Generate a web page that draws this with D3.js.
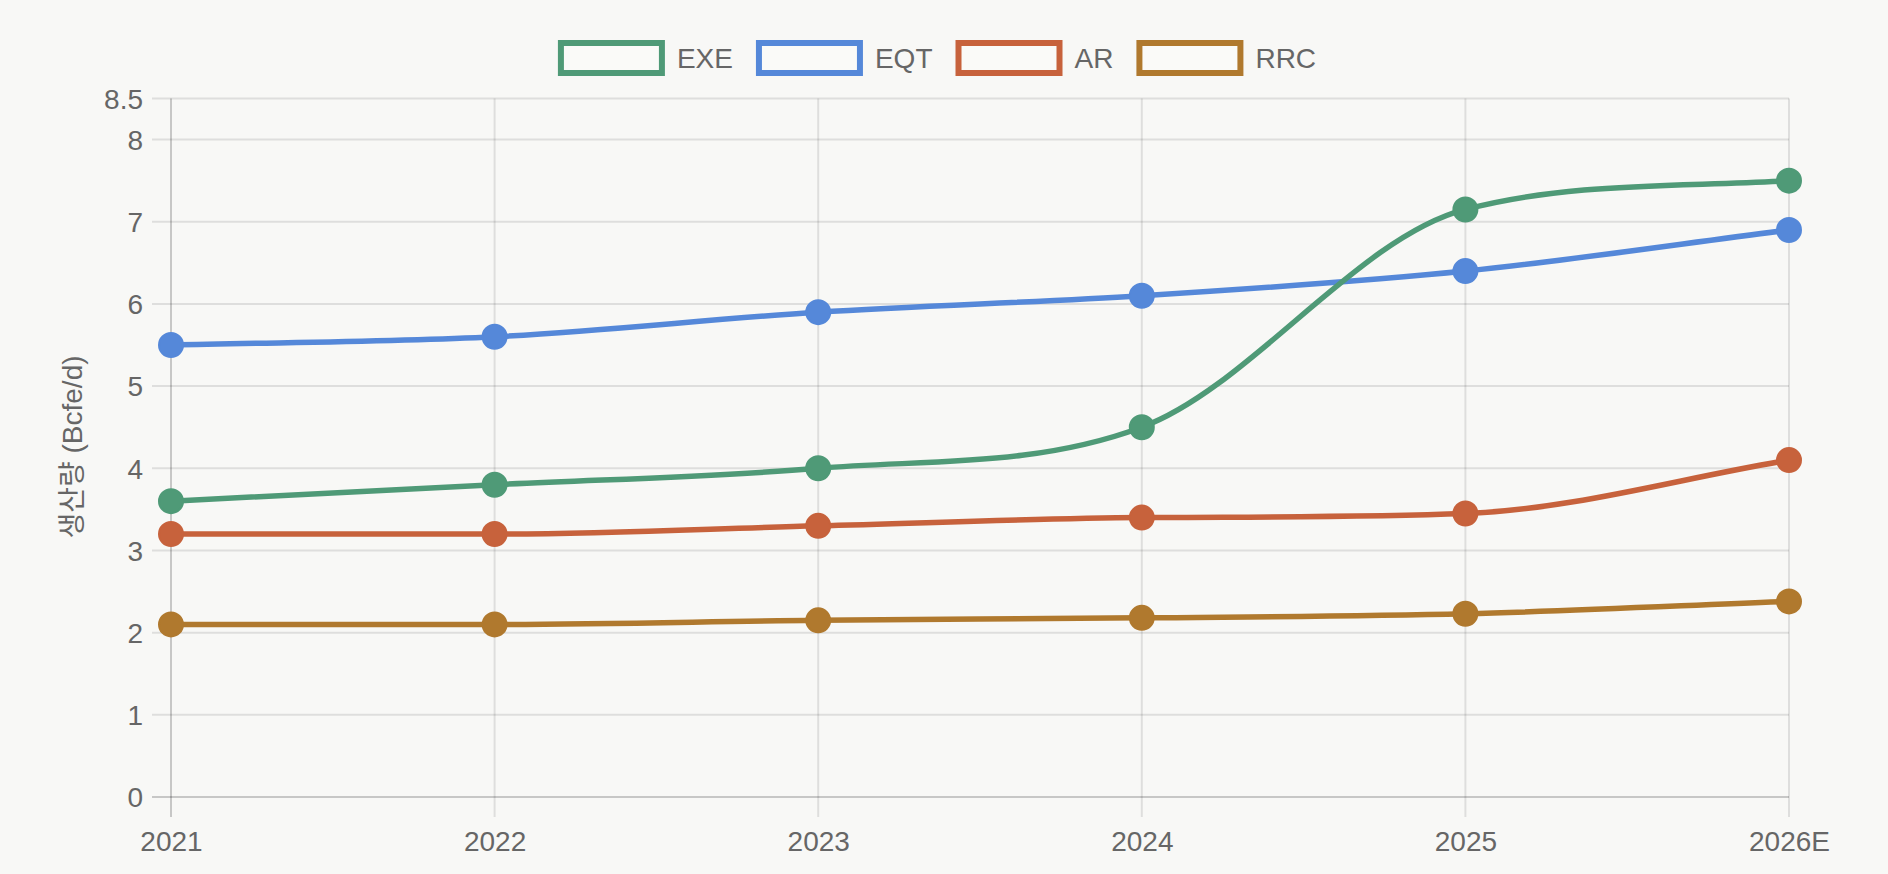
<!DOCTYPE html>
<html>
<head>
<meta charset="utf-8">
<script src="https://cdn.jsdelivr.net/npm/d3@7"></script>
<style>
  html, body { margin: 0; padding: 0; background: #f8f8f6; }
  svg { display: block; }
  text { font-family: "Liberation Sans", Arial, "Noto Sans CJK KR", sans-serif; fill: #666; }
</style>
</head>
<body>
<svg id="chart" width="1888" height="874"></svg>
<script>
const categories = ["2021", "2022", "2023", "2024", "2025", "2026E"];
const seriesNames = ["EXE", "EQT", "AR", "RRC"];
const seriesColors = ["#4f9a77", "#5588d9", "#c7623c", "#b0792e"];
const exeValues = [3.6, 3.8, 4.0, 4.5, 7.15, 7.5];
const eqtValues = [5.5, 5.6, 5.9, 6.1, 6.4, 6.9];
const arValues  = [3.2, 3.2, 3.3, 3.4, 3.45, 4.1];
const rrcValues = [2.1, 2.1, 2.15, 2.18, 2.23, 2.38];
const yTicks = [0, 1, 2, 3, 4, 5, 6, 7, 8, 8.5];
const yMax = 8.5;
const yTitle = "생산량 (Bcfe/d)";

(function () {
const seriesValues = [exeValues, eqtValues, arValues, rrcValues];
const series = seriesNames.map((n, i) => ({ name: n, color: seriesColors[i], values: seriesValues[i] }));

const svg = d3.select("#chart");
const pL = 171, pR = 1789, pT = 98.5, pB = 797;

const x = d3.scalePoint().domain(categories).range([pL, pR]).padding(0);
const y = d3.scaleLinear().domain([0, yMax]).range([pB, pT]);

const gridColor = "rgba(0,0,0,0.1)";

// horizontal grid
svg.append("g").selectAll("line").data(yTicks).join("line")
  .attr("x1", 152).attr("x2", pR)
  .attr("y1", d => y(d)).attr("y2", d => y(d))
  .attr("stroke", gridColor).attr("stroke-width", 2);

// y tick labels
const yAxis = d3.axisLeft(y).tickValues(yTicks).tickSize(0).tickPadding(0)
  .tickFormat(d => String(d));
const gyAxis = svg.append("g").attr("transform", `translate(143,0)`).call(yAxis);
gyAxis.select(".domain").remove();
gyAxis.selectAll("text").attr("font-size", 28).attr("fill", "#666")
  .attr("dy", "0.35em").attr("x", 0).attr("text-anchor", "end")
  .style("font-family", '"Liberation Sans", Arial, sans-serif');

// vertical grid
svg.append("g").selectAll("line").data(categories).join("line")
  .attr("x1", d => x(d)).attr("x2", d => x(d))
  .attr("y1", pT).attr("y2", pB + 20)
  .attr("stroke", gridColor).attr("stroke-width", 2);

// axis borders
svg.append("line").attr("x1", pL).attr("x2", pL).attr("y1", pT).attr("y2", pB + 20)
  .attr("stroke", gridColor).attr("stroke-width", 2);
svg.append("line").attr("x1", 152).attr("x2", pR).attr("y1", pB).attr("y2", pB)
  .attr("stroke", gridColor).attr("stroke-width", 2);

// x labels
const xAxis = d3.axisBottom(x).tickSize(0).tickPadding(0);
const gx = svg.append("g").attr("transform", `translate(0,851)`).call(xAxis);
gx.select(".domain").remove();
gx.selectAll("text").attr("font-size", 28).attr("fill", "#666").attr("dy", 0).attr("y", 0)
  .style("font-family", '"Liberation Sans", Arial, sans-serif');

// y title
svg.append("text")
  .attr("transform", `translate(82,447) rotate(-90)`)
  .attr("text-anchor", "middle")
  .attr("font-size", 28)
  .text(yTitle);

// Chart.js-style monotone cubic interpolation (Fritsch–Carlson)
const clampX = v => Math.max(pL, Math.min(pR, v));
const clampY = v => Math.max(pT, Math.min(pB, v));
function monotonePath(pts) {
  const n = pts.length;
  const dK = [], mK = [];
  for (let i = 0; i < n - 1; i++) dK.push((pts[i + 1].y - pts[i].y) / (pts[i + 1].x - pts[i].x));
  for (let i = 0; i < n; i++) {
    if (i === 0) mK.push(dK[0]);
    else if (i === n - 1) mK.push(dK[n - 2]);
    else mK.push(dK[i - 1] * dK[i] <= 0 ? 0 : (dK[i - 1] + dK[i]) / 2);
  }
  for (let i = 0; i < n - 1; i++) {
    if (Math.abs(dK[i]) < 1e-9) { mK[i] = mK[i + 1] = 0; continue; }
    const a = mK[i] / dK[i], b = mK[i + 1] / dK[i];
    const sq = a * a + b * b;
    if (sq <= 9) continue;
    const tau = 3 / Math.sqrt(sq);
    mK[i] = a * tau * dK[i];
    mK[i + 1] = b * tau * dK[i];
  }
  const path = d3.path();
  path.moveTo(pts[0].x, pts[0].y);
  for (let i = 1; i < n; i++) {
    const p0 = pts[i - 1], p1 = pts[i];
    const dx = (p1.x - p0.x) / 3;
    path.bezierCurveTo(
      clampX(p0.x + dx), clampY(p0.y + dx * mK[i - 1]),
      clampX(p1.x - dx), clampY(p1.y - dx * mK[i]),
      p1.x, p1.y);
  }
  return path.toString();
}

// draw in reverse order so the first dataset is on top
const plot = svg.append("g");
series.slice().reverse().forEach(s => {
  const pts = s.values.map((v, i) => ({ x: x(categories[i]), y: y(v) }));
  const g = plot.append("g");
  g.append("path").attr("d", monotonePath(pts))
    .attr("fill", "none").attr("stroke", s.color).attr("stroke-width", 5.5)
    .attr("stroke-linejoin", "round");
  g.selectAll("circle").data(pts).join("circle")
    .attr("cx", d => d.x).attr("cy", d => d.y).attr("r", 12)
    .attr("fill", s.color).attr("stroke", s.color).attr("stroke-width", 2);
});

// legend
const legend = svg.append("g");
const boxW = 107, boxH = 36, gap = 12, itemGap = 23;
const temp = legend.append("text").attr("font-size", 28);
const widths = series.map(s => { temp.text(s.name); return temp.node().getComputedTextLength(); });
temp.remove();
const total = d3.sum(widths) + series.length * (boxW + gap) + (series.length - 1) * itemGap;
let cx = 937 - total / 2;
series.forEach((s, i) => {
  legend.append("rect")
    .attr("x", cx + 3).attr("y", 40 + 3).attr("width", boxW - 6).attr("height", boxH - 6)
    .attr("fill", "#fafaf8").attr("stroke", s.color).attr("stroke-width", 6);
  legend.append("text").attr("x", cx + boxW + gap).attr("y", 58).attr("dy", "0.35em")
    .attr("font-size", 28).text(s.name);
  cx += boxW + gap + widths[i] + itemGap;
});
})();
</script>
</body>
</html>
